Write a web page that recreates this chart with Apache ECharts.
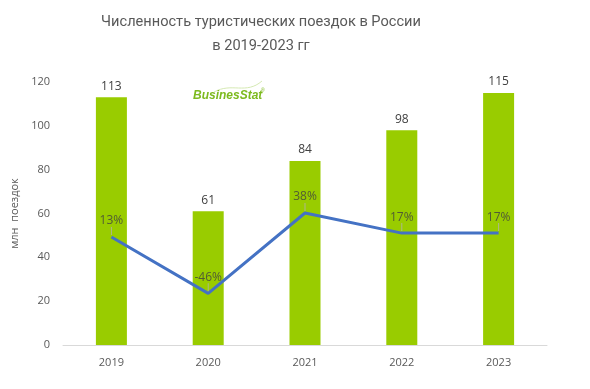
<!DOCTYPE html>
<html><head><meta charset="utf-8">
<script src="https://cdn.jsdelivr.net/npm/echarts@6/dist/echarts.min.js"></script>
<style>html,body{margin:0;padding:0;background:#fff}#c{width:590px;height:389px}</style>
</head><body><div id="c"></div>
<script>
const years = ['2019','2020','2021','2022','2023'];
const trips = [113, 61, 84, 98, 115];
const growth = [13, -46, 38, 17, 17];
const yTicks = [0, 20, 40, 60, 80, 100, 120];

const chart = echarts.init(document.getElementById('c'));
chart.setOption({
  animation: false,
  graphic: [{
    type: 'text', x: 261, y: 34,
    style: {text: 'Численность туристических поездок в России\nв 2019-2023 гг',
      align: 'center', verticalAlign: 'middle', lineHeight: 24,
      fontFamily: 'Roboto', fontSize: 14.6, fill: '#595959'}
  }, {
    type: 'bezierCurve', silent: true,
    shape: {x1: 214, y1: 92, x2: 262, y2: 81, cpx1: 232, cpy1: 82, cpx2: 246, cpy2: 95},
    style: {stroke: '#d5e9b3', lineWidth: 1, fill: null}
  }, {
    type: 'text', left: 193, top: 90,
    style: {text: 'BusinesStat', fontFamily: 'Liberation Sans', fontStyle: 'italic', fontWeight: 'bold', fontSize: 12, fill: '#7DBA1F'}
  }, {
    type: 'text', left: 261, top: 88,
    style: {text: '®', fontFamily: 'Liberation Sans', fontSize: 5, fill: '#7DBA1F'}
  }],
  grid: {left: 63, right: 43, top: 82, bottom: 44},
  xAxis: {
    type: 'category', data: years,
    axisLine: {lineStyle: {color: '#d9d9d9', width: 1}},
    axisTick: {show: false},
    axisLabel: {color: '#595959', fontSize: 11, margin: 12, fontFamily: 'Open Sans'}
  },
  yAxis: [{
    type: 'value', min: yTicks[0], max: yTicks[yTicks.length - 1], interval: 20,
    name: 'млн  поездок', nameLocation: 'middle', nameGap: 32, nameRotate: 90,
    nameTextStyle: {color: '#595959', fontSize: 11, fontFamily: 'Open Sans'},
    splitLine: {show: false}, axisLine: {show: false}, axisTick: {show: false},
    axisLabel: {color: '#595959', fontSize: 11, margin: 13, fontFamily: 'Open Sans'}
  }, {
    type: 'value', min: -100, max: 175, show: false, splitLine: {show: false}
  }],
  series: [{
    type: 'bar', data: trips, barWidth: 31,
    itemStyle: {color: '#99CC00'},
    label: {show: true, position: 'top', distance: 5, color: '#404040', fontSize: 12, fontFamily: 'Open Sans'}
  }, {
    type: 'line', yAxisIndex: 1, data: growth, z: 3,
    showSymbol: false, symbol: 'none',
    lineStyle: {color: '#4472C4', width: 3}
  }, {
    type: 'scatter', yAxisIndex: 1, data: growth, z: 4,
    symbol: 'rect', symbolSize: [1, 8], symbolOffset: [0, -6],
    itemStyle: {color: '#b0b0b0'}, silent: true,
    labelLayout: {hideOverlap: false},
    label: {show: true, position: 'top', distance: 0, offset: [0, 7], color: '#404040', fontSize: 12, fontFamily: 'Open Sans',
      formatter: p => p.value + '%'}
  }]
});
</script></body></html>
